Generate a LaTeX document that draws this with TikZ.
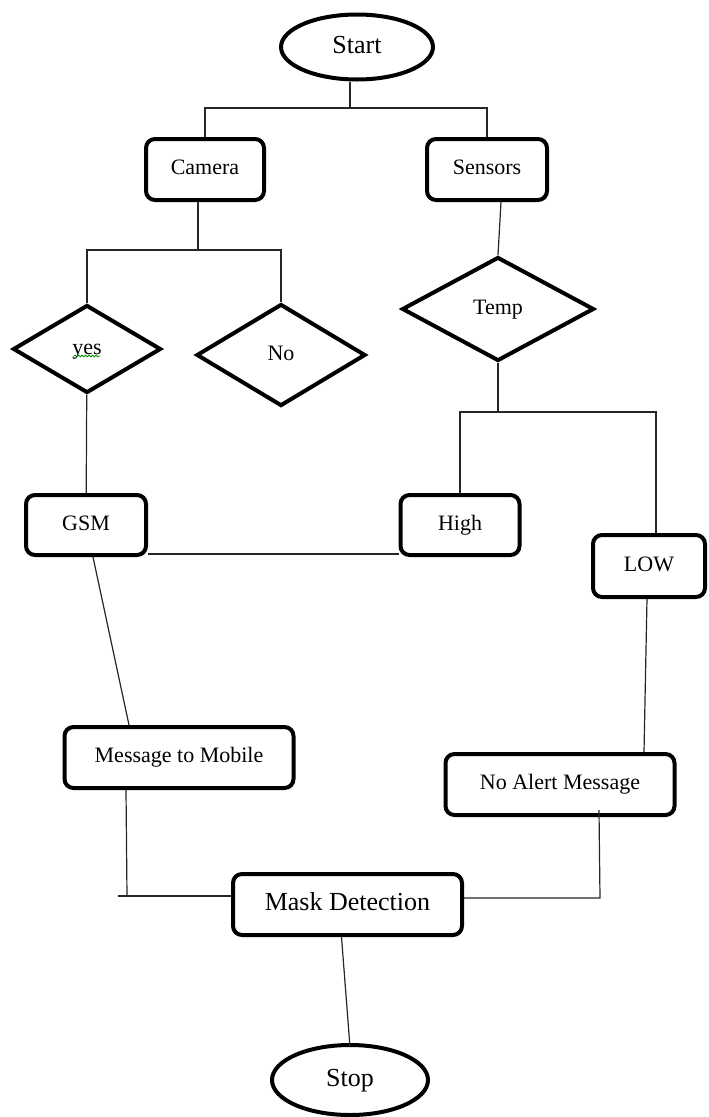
\documentclass[tikz,border=0pt]{standalone}
\usepackage{fontspec}
\setmainfont{Liberation Serif}
\usetikzlibrary{shapes,decorations.pathmorphing}

\begin{document}
\begin{tikzpicture}[x=1pt,y=-1pt,
  term/.style={ellipse,draw,line width=4pt,inner sep=0pt,text height=18pt,text depth=6pt,font=\fontsize{26}{30}\selectfont},
  box/.style={rectangle,rounded corners=9pt,draw,line width=4pt,inner sep=0pt,text height=15pt,text depth=5pt,font=\fontsize{22}{26}\selectfont},
  test/.style={diamond,draw,line width=4pt,inner sep=0pt,text height=15pt,text depth=5pt,font=\fontsize{22}{26}\selectfont},
  link/.style={draw=black!85,line width=1.2pt}]
  \useasboundingbox (0,0) rectangle (709,1117);

  \node[term,minimum width=152pt,minimum height=65pt] (start) at (357,47) {Start};
  \node[box,minimum width=118pt,minimum height=61pt] (camera) at (205,169.5) {Camera};
  \node[box,minimum width=120pt,minimum height=61pt] (sensors) at (487,169.5) {Sensors};
  \node[test,minimum width=148pt,minimum height=88pt] (yes) at (87,349) {yes};
  \node[test,minimum width=169pt,minimum height=102pt] (no) at (281,355) {No};
  \node[test,minimum width=192pt,minimum height=104pt] (temp) at (498,309) {Temp};
  \node[box,minimum width=120pt,minimum height=60pt] (gsm) at (86,525) {GSM};
  \node[box,minimum width=119pt,minimum height=60pt] (high) at (460,525) {High};
  \node[box,minimum width=112pt,minimum height=62pt] (low) at (649,566) {LOW};
  \node[box,minimum width=229pt,minimum height=61pt] (msg) at (179,757.5) {Message to Mobile};
  \node[box,minimum width=229pt,minimum height=61pt] (noalert) at (560,784.5) {No Alert Message};
  \node[box,minimum width=229pt,minimum height=61pt,text height=18pt,text depth=6pt,font=\fontsize{26}{30}\selectfont] (mask) at (347.5,904.5) {Mask Detection};
  \node[term,minimum width=156pt,minimum height=70pt] (stop) at (350,1080) {Stop};

  \draw[green!55!black,line width=0.8pt,decorate,decoration={snake,amplitude=0.9pt,segment length=3.5pt}]
    ([xshift=-13pt,yshift=-7pt]yes.center) -- ([xshift=13pt,yshift=-7pt]yes.center);

  \coordinate (split1) at (350,108);
  \coordinate (split2) at (198,250);
  \coordinate (split3) at (498,412);
  \coordinate (joinL) at (118,896);
  \coordinate (joinR) at (600,898);

  \draw[link] ([xshift=-7pt]start.south) -- (split1);
  \draw[link] (camera.north) |- (split1) -| (sensors.north);
  \draw[link] ([xshift=-7pt]camera.south) -- (split2);
  \draw[link] (yes.north) |- (split2) -| (no.north);
  \draw[link] ([xshift=14pt]sensors.south) -- (temp.north);
  \draw[link] (temp.south) -- (split3);
  \draw[link] (high.north) |- (split3) -| ([xshift=7pt]low.north);
  \draw[link] (yes) -- (gsm);
  \draw[link] ([yshift=3pt]gsm.south east) -- ([yshift=3pt]high.south west);
  \draw[link] ([xshift=7pt]gsm.south) -- ([xshift=-50pt]msg.north);
  \draw[link] ([xshift=-2pt]low.south) -- ([xshift=84pt]noalert.north);
  \draw[link] ([xshift=-53pt]msg.south) -- ([xshift=9pt]joinL);
  \draw[link] (joinL) -- (joinL -| mask.west);
  \draw[link] ([xshift=39pt,yshift=7pt]noalert.south) -- (joinR) -- (joinR -| mask.east);
  \draw[link] ([xshift=-6pt]mask.south) -- ([yshift=-4pt]stop.north);
\end{tikzpicture}
\end{document}
